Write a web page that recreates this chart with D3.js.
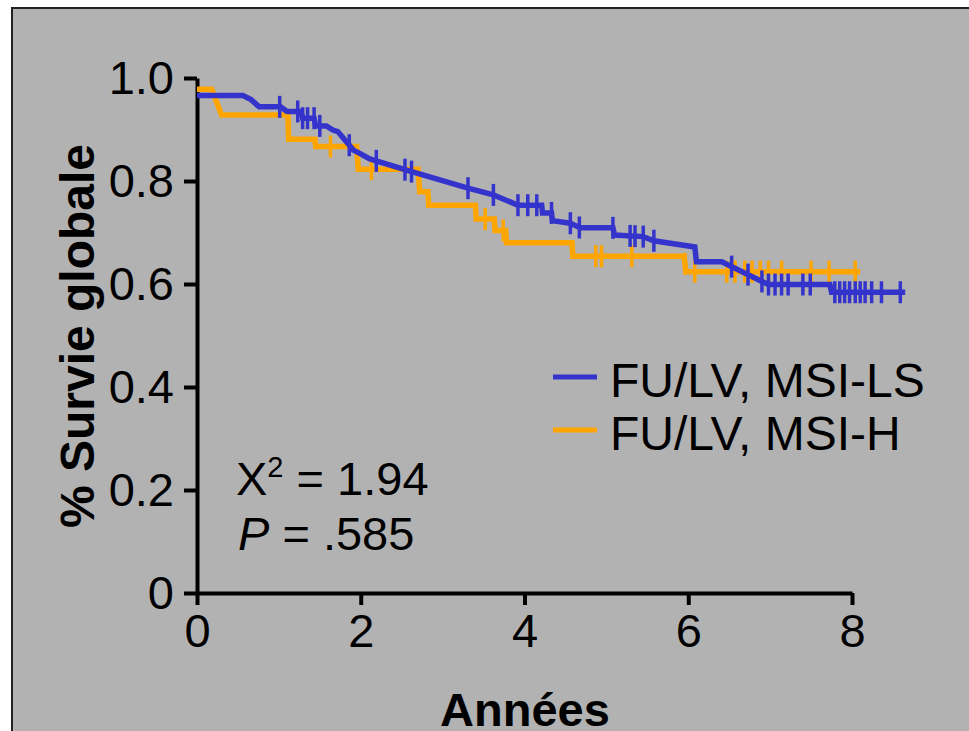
<!DOCTYPE html>
<html><head><meta charset="utf-8">
<script src="https://cdn.jsdelivr.net/npm/d3@7"></script>
<style>body{margin:0;background:#fff;}svg{display:block;font-family:"Liberation Sans",Arial,sans-serif;}</style>
</head><body>
<svg id="c" width="969" height="731"></svg>
<script>
const xTicks = [0, 2, 4, 6, 8];
const yTicks = [0, 0.2, 0.4, 0.6, 0.8, 1.0];
const seriesNames = ["FU/LV, MSI-LS", "FU/LV, MSI-H"];
const seriesColors = ["#3434CC", "#FFA500"];

// MSI-LS curve vertices (years, survival)
const lsTime = [0, 0.56, 0.66, 0.76, 1.02, 1.10, 1.27, 1.29, 1.43, 1.45, 1.58, 1.66, 1.72, 1.91, 1.97, 2.11, 2.56, 3.31, 3.62, 3.86, 3.92, 4.21, 4.22, 4.33, 4.34, 4.56, 4.68, 5.08, 5.10, 5.45, 5.58, 6.08, 6.10, 6.41, 6.90, 6.98, 7.73, 7.75, 8.65];
const lsSurv = [0.966, 0.966, 0.958, 0.944, 0.944, 0.935, 0.935, 0.922, 0.922, 0.907, 0.907, 0.899, 0.896, 0.860, 0.855, 0.843, 0.821, 0.786, 0.773, 0.757, 0.753, 0.753, 0.738, 0.738, 0.723, 0.718, 0.709, 0.709, 0.695, 0.692, 0.684, 0.672, 0.643, 0.643, 0.605, 0.599, 0.599, 0.584, 0.584];
const lsCensor = [1.01, 1.23, 1.29, 1.35, 1.43, 1.50, 1.86, 2.19, 2.54, 2.62, 3.31, 3.62, 3.92, 4.04, 4.15, 4.33, 4.56, 4.67, 5.08, 5.29, 5.35, 5.45, 5.58, 6.53, 6.73, 6.90, 6.98, 7.06, 7.14, 7.22, 7.40, 7.49, 7.79, 7.85, 7.91, 7.97, 8.04, 8.10, 8.16, 8.24, 8.36, 8.59];

// MSI-H curve vertices
const hTime = [0, 0.18, 0.30, 1.11, 1.12, 1.44, 1.45, 1.95, 1.97, 2.70, 2.72, 2.82, 2.83, 3.40, 3.41, 3.63, 3.64, 3.77, 3.78, 4.58, 4.59, 5.95, 5.97, 8.10];
const hSurv = [0.978, 0.978, 0.928, 0.928, 0.881, 0.881, 0.867, 0.867, 0.823, 0.823, 0.779, 0.779, 0.753, 0.753, 0.726, 0.726, 0.704, 0.704, 0.680, 0.680, 0.654, 0.654, 0.624, 0.624];
const hCensor = [1.63, 2.13, 3.52, 3.74, 4.87, 4.94, 5.31, 5.96, 6.08, 6.47, 6.57, 6.69, 6.78, 6.88, 6.98, 7.14, 7.50, 7.72, 8.04];

const svg = d3.select("#c");
const W = 969, H = 731;

// panel
svg.append("rect").attr("x", 12).attr("y", 8).attr("width", W + 20).attr("height", H + 20)
  .attr("fill", "#B2B2B2").attr("stroke", "#222").attr("stroke-width", 2);

const x = d3.scaleLinear().domain([0, 8]).range([197, 852]);
const y = d3.scaleLinear().domain([0, 1]).range([593, 78]);

const fmt = d => d === 0 ? "0" : d3.format(".1f")(d);

// y axis
const gy = svg.append("g").attr("transform", `translate(${x(0)},0)`)
  .call(d3.axisLeft(y).tickValues(yTicks).tickFormat(fmt).tickSize(13).tickSizeOuter(0).tickPadding(10));
gy.select(".domain").attr("stroke", "#000").attr("stroke-width", 4);
gy.selectAll(".tick line").attr("stroke", "#000").attr("stroke-width", 4);
gy.selectAll(".tick text").attr("font-size", 47).attr("fill", "#000").attr("font-family", "Liberation Sans, Arial");

// x axis
const gx = svg.append("g").attr("transform", `translate(0,${y(0)})`)
  .call(d3.axisBottom(x).tickValues(xTicks).tickFormat(d3.format("d")).tickSize(12).tickSizeOuter(0).tickPadding(9));
gx.select(".domain").attr("stroke", "#000").attr("stroke-width", 4);
gx.selectAll(".tick line").attr("stroke", "#000").attr("stroke-width", 4);
gx.selectAll(".tick text").attr("font-size", 47).attr("fill", "#000").attr("font-family", "Liberation Sans, Arial");

// axis titles
svg.append("text").attr("transform", "translate(94,336) rotate(-90)").attr("text-anchor", "middle")
  .attr("font-size", 48).attr("font-weight", "bold").text("% Survie globale");
svg.append("text").attr("x", 525).attr("y", 726).attr("text-anchor", "middle")
  .attr("font-size", 47).attr("font-weight", "bold").text("Années");

const line = d3.line().x(d => x(d[0])).y(d => y(d[1]));
function interp(times, surv, t) {
  for (let i = 0; i < times.length - 1; i++) {
    if (t >= times[i] && t <= times[i + 1]) {
      const f = (t - times[i]) / (times[i + 1] - times[i] || 1);
      return surv[i] + f * (surv[i + 1] - surv[i]);
    }
  }
  return surv[surv.length - 1];
}
function drawCurve(times, surv, censor, color) {
  const pts = times.map((t, i) => [t, surv[i]]);
  svg.append("path").datum(pts).attr("d", line).attr("fill", "none")
    .attr("stroke", color).attr("stroke-width", 5.5).attr("stroke-linejoin", "miter");
  svg.append("g").selectAll("line").data(censor).join("line")
    .attr("x1", d => x(d)).attr("x2", d => x(d))
    .attr("y1", d => y(interp(times, surv, d)) - 11)
    .attr("y2", d => y(interp(times, surv, d)) + 11)
    .attr("stroke", color).attr("stroke-width", 3.5);
}
drawCurve(hTime, hSurv, hCensor, seriesColors[1]);
drawCurve(lsTime, lsSurv, lsCensor, seriesColors[0]);

// legend
const leg = svg.append("g");
seriesNames.forEach((n, i) => {
  const yy = 377 + i * 53;
  leg.append("line").attr("x1", 553).attr("x2", 597).attr("y1", yy).attr("y2", yy)
    .attr("stroke", seriesColors[i]).attr("stroke-width", 5);
  leg.append("text").attr("x", 610).attr("y", yy + 20).attr("font-size", 48).text(n);
});

// statistics annotation
const t1 = svg.append("text").attr("x", 236).attr("y", 495).attr("font-size", 47);
t1.append("tspan").text("X");
t1.append("tspan").attr("font-size", 29).attr("dy", -18).text("2");
t1.append("tspan").attr("dy", 18).text(" = 1.94");
const t2 = svg.append("text").attr("x", 238).attr("y", 550).attr("font-size", 47);
t2.append("tspan").attr("font-style", "italic").text("P");
t2.append("tspan").text(" = .585");
</script>
</body></html>
